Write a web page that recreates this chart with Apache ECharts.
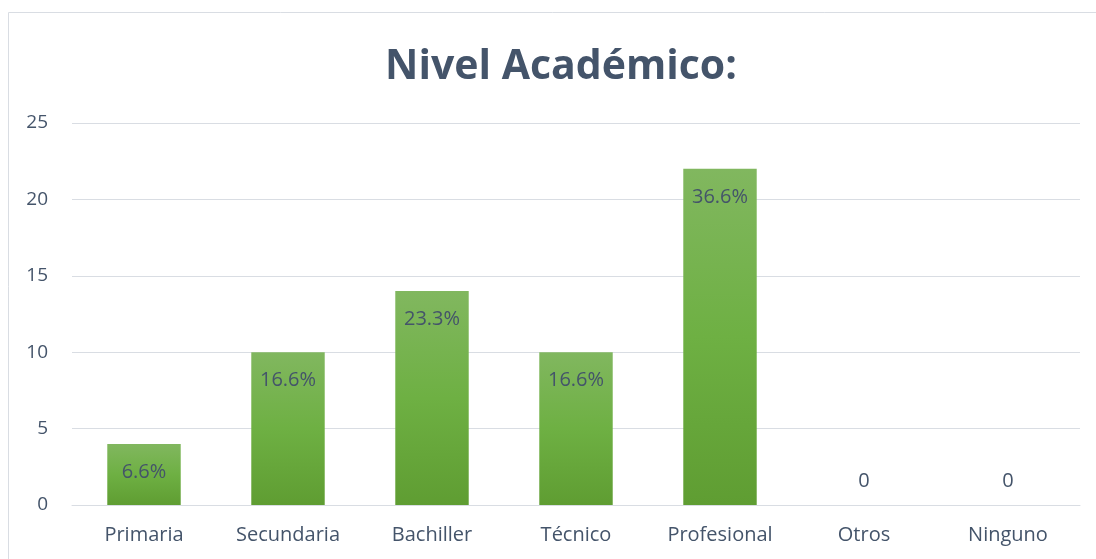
<!DOCTYPE html>
<html>
<head>
<meta charset="utf-8">
<script src="https://cdn.jsdelivr.net/npm/echarts@6/dist/echarts.min.js"></script>
<style>
  html, body { margin: 0; padding: 0; background: #fff; }
  #chart { width: 1096px; height: 559px; }
</style>
</head>
<body>
<div id="chart"></div>
<script>
// datos
var categorias = ['Primaria', 'Secundaria', 'Bachiller', 'Técnico', 'Profesional', 'Otros', 'Ninguno'];
var valores = [4, 10, 14, 10, 22, 0, 0];
var etiquetas = ['6.6%', '16.6%', '23.3%', '16.6%', '36.6%', '0', '0'];
var ticksY = [0, 5, 10, 15, 20, 25];

var colorTexto = '#44546a';
var fuente = '"Open Sans", "Noto Sans", sans-serif';

var chart = echarts.init(document.getElementById('chart'));

var datos = valores.map(function (v, i) {
  return {
    value: v,
    label: {
      position: v === 0 ? 'top' : 'insideTop',
      distance: v === 0 ? 14 : 18,
      formatter: etiquetas[i]
    }
  };
});

chart.setOption({
  animation: false,
  title: {
    text: 'Nivel Académico:',
    left: 556,
    textAlign: 'center',
    top: 42,
    textStyle: { fontFamily: fuente, fontSize: 41, fontWeight: 'bold', color: colorTexto }
  },
  graphic: [{
    type: 'rect',
    shape: { x: 8.5, y: 12.5, width: 1100, height: 560 },
    style: { fill: 'none', stroke: '#d9dde3', lineWidth: 1 },
    silent: true
  }],
  grid: { left: 72, right: 16, top: 123, bottom: 54 },
  xAxis: {
    type: 'category',
    data: categorias,
    axisLine: { lineStyle: { color: '#d9dde3', width: 1 } },
    axisTick: { show: false },
    axisLabel: { color: colorTexto, fontFamily: fuente, fontSize: 20, margin: 20 }
  },
  yAxis: {
    type: 'value',
    min: ticksY[0],
    max: ticksY[ticksY.length - 1],
    interval: 5,
    axisLine: { show: false },
    axisTick: { show: false },
    splitLine: { lineStyle: { color: '#d9dde3', width: 1 } },
    axisLabel: { color: colorTexto, fontFamily: fuente, fontSize: 19, margin: 24 }
  },
  series: [{
    type: 'bar',
    data: datos,
    barWidth: '51%',
    itemStyle: {
      color: new echarts.graphic.LinearGradient(0, 0, 0, 1, [
        { offset: 0, color: '#81b75f' },
        { offset: 0.5, color: '#6eb043' },
        { offset: 1, color: '#5f9d32' }
      ])
    },
    label: {
      show: true,
      color: colorTexto,
      fontFamily: fuente,
      fontSize: 20
    }
  }]
});
</script>
</body>
</html>
